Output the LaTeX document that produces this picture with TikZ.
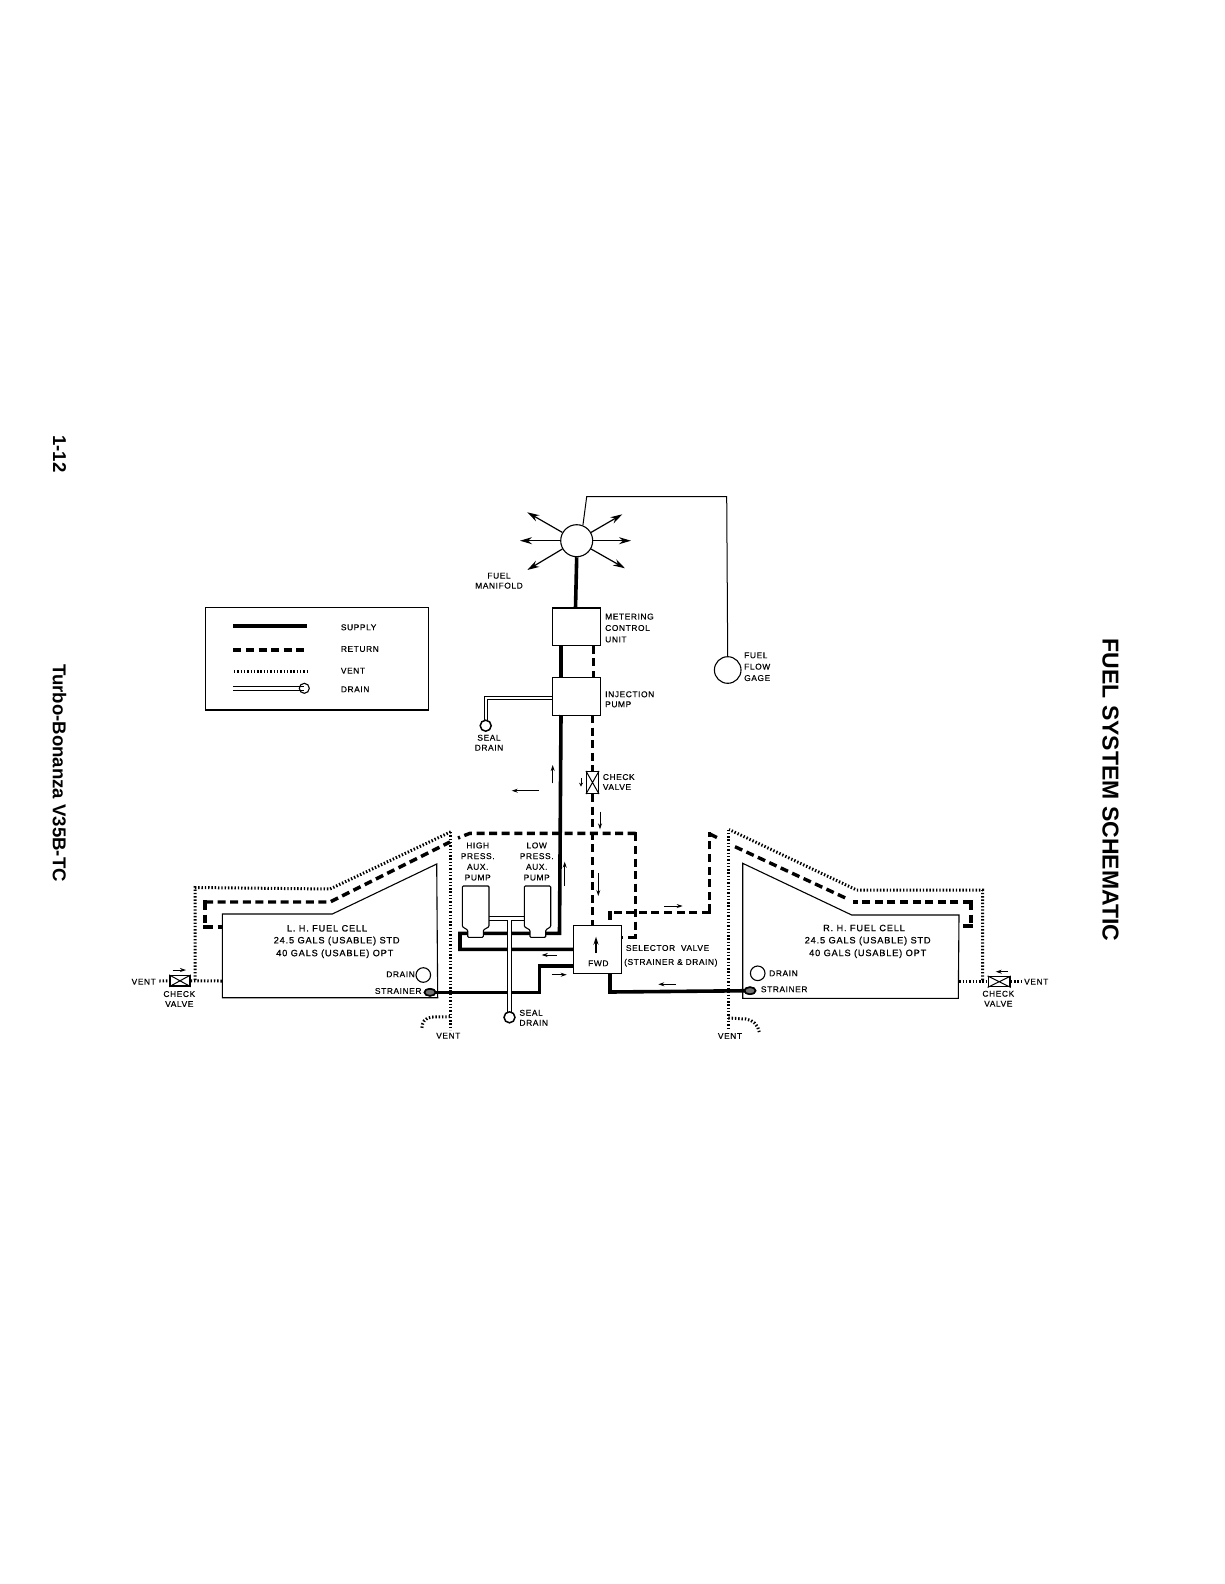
\documentclass[tikz,border=0pt]{standalone}
\usepackage{fontspec}
\setmainfont{Liberation Sans}
\newfontfamily\lbl[LetterSpace=7,FakeBold=0.3]{Liberation Sans}
\newfontfamily\lblb[LetterSpace=9,FakeBold=0.8]{Liberation Sans}
\usetikzlibrary{arrows.meta,shapes.geometric}
\tikzset{
  supply/.style={line width=3.6pt,line join=miter},
  ret/.style={line width=3.4pt,dash pattern=on 8pt off 4.6pt,line join=miter},
  ventline/.style={line width=3pt,dash pattern=on 1.4pt off 1.9pt},
  drainedge/.style={line width=0.9pt,line join=miter},
  draincore/.style={white,line width=2.2pt},
  thinline/.style={line width=1pt},
  tank/.style={line width=1.1pt,line join=miter},
  box/.style={draw,line width=1.1pt,fill=white,inner sep=0pt,rectangle},
  flow/.style={line width=0.9pt,-{Stealth[length=6pt,width=4pt]}},
  spray/.style={line width=1.2pt,-{Stealth[length=12pt,width=7pt]}},
  circ/.style={draw,circle,line width=1.1pt,fill=white,inner sep=0pt},
  strainer/.style={draw,ellipse,line width=1.6pt,fill=black!55,inner sep=0pt,minimum width=11pt,minimum height=7pt},
  valve/.style={draw,line width=1.5pt,fill=white,inner sep=0pt,rectangle},
  lab/.style={font=\lbl\fontsize{8.4}{10}\selectfont,inner sep=0pt,align=center},
  labl/.style={lab,anchor=west},
  labr/.style={lab,anchor=east},
  labwide/.style={font=\lbl\fontsize{8.4}{11.4}\selectfont},
  labpump/.style={font=\lbl\fontsize{8.4}{10.7}\selectfont},
  tanklab/.style={font=\lblb\fontsize{9.2}{10}\selectfont,inner sep=0pt},
  pagehead/.style={font=\bfseries\fontsize{18.6}{22}\selectfont,inner sep=0pt,rotate=-90},
}
\begin{document}
\begin{tikzpicture}[x=1pt,y=-1pt]
\useasboundingbox (0,0) rectangle (1224,1584);
% page headings
\node[pagehead] (page) at (59.5,454) {1-12};
\node[pagehead] (model) at (59.5,773) {Turbo-Bonanza V35B-TC};
\node[pagehead,font=\bfseries\fontsize{23}{26}\selectfont] (title) at (1110.5,790) {FUEL SYSTEM SCHEMATIC};

% legend
\node[box,line width=1.3pt,minimum width=223pt,minimum height=102.7pt] (legend) at (317.2,658.7) {};
\coordinate (ls1) at (233.3,626); \coordinate (ls2) at (306.7,626);
\coordinate (lr1) at (233.3,650); \coordinate (lr2) at (306.7,650);
\coordinate (lv1) at (234,671.7); \coordinate (lv2) at (306.7,671.7);
\draw[supply] (ls1) -- (ls2);
\draw[ret] (lr1) -- (lr2);
\draw[ventline] (lv1) -- (lv2);
\draw[drainedge] (233.3,686.6) -- (304.3,686.6) (233.3,690) -- (304.3,690);
\node[circ,minimum size=10pt,fill=none] (ldc) at (304.3,688.3) {};
\node[labl] (lt1) at (340.7,627.3) {SUPPLY};
\node[labl] (lt2) at (340.7,649) {RETURN};
\node[labl] (lt3) at (340.7,670.7) {VENT};
\node[labl] (lt4) at (340.7,689.3) {DRAIN};

% upper components
\node[circ,minimum size=32pt] (manifold) at (576.7,540.7) {};
\node[box,minimum width=47.7pt,minimum height=37.7pt] (metering) at (576.2,626.8) {};
\node[box,minimum width=47.7pt,minimum height=37.7pt] (injection) at (576.2,696.2) {};
\node[circ,minimum size=26.6pt] (gage) at (727.7,670) {};
\node[box,minimum width=48.4pt,minimum height=48.3pt] (selector) at (597.5,949.2) {};

% supply lines
\coordinate (s1) at (575.5,608);
\draw[supply] (manifold.south) -- (s1);
\coordinate (s2) at (561,645.7); \coordinate (s3) at (561,677.3);
\draw[supply] (s2) -- (s3);
\coordinate (s4) at (561,715); \coordinate (s5) at (559.5,933.3);
\coordinate (s6) at (460,933.3); \coordinate (s7) at (460,949.4);
\coordinate (s8) at (573.3,949.4);
\draw[supply] (s4) -- (s5) -- (s6) -- (s7) -- (s8);
\node[strainer] (lstrain) at (430,992.3) {};
\node[strainer] (rstrain) at (750,990.7) {};
\coordinate (s9) at (573.3,966); \coordinate (s10) at (539.3,966); \coordinate (s11) at (539.3,992.3);
\draw[supply] (s9) -- (s10) -- (s11) -- (lstrain.center);
\coordinate (s12) at (610,973.3); \coordinate (s13) at (610,992);
\draw[supply] (s12) -- (s13) -- (rstrain.center);
\node[strainer] at (lstrain) {};
\node[strainer] at (rstrain) {};

% pumps
\draw[tank,fill=white,rounded corners=1pt] (462.3,886) -- (489,886) -- (489,926.7) -- (483.3,930) -- (483.3,937.3) -- (467.7,937.3) -- (467.7,930) -- (462.3,926.7) -- cycle;
\draw[tank,fill=white,rounded corners=1pt] (524.3,886) -- (550.7,886) -- (550.7,926.7) -- (545.7,930) -- (545.7,937.3) -- (530,937.3) -- (530,930) -- (524.3,926.7) -- cycle;
% drains from pumps
\coordinate (d1) at (489,916.6); \coordinate (d2) at (524.3,916.6);
\coordinate (d3) at (489,920); \coordinate (d4) at (507.8,920);
\coordinate (d5) at (511.2,920); \coordinate (d6) at (524.3,920);
\coordinate (d7) at (507.8,1013); \coordinate (d8) at (511.2,1013);
\draw[draincore] (509.5,921) -- (509.5,1013);
\draw[drainedge] (d1) -- (d2);
\draw[drainedge] (d3) -- (d4) -- (d7);
\draw[drainedge] (d6) -- (d5) -- (d8);
\node[circ,minimum size=11pt,line width=1.5pt,fill=none] (sealb) at (509.5,1017.3) {};
% injection pump drain
\coordinate (e1) at (552.3,696); \coordinate (e2) at (484,696); \coordinate (e3) at (484,721);
\coordinate (e4) at (552.3,699.4); \coordinate (e5) at (487.4,699.4); \coordinate (e6) at (487.4,721);
\draw[drainedge] (e1) -- (e2) -- (e3);
\draw[drainedge] (e4) -- (e5) -- (e6);
\node[circ,minimum size=11pt,line width=1.5pt,fill=none] (sealt) at (485.7,725.7) {};

% return lines
\coordinate (r1) at (593.3,645.7); \coordinate (r2) at (593.3,677.3);
\draw[ret] (r1) -- (r2);
\node[valve,minimum width=11.6pt,minimum height=21.6pt] (cvtop) at (592.5,782.5) {};
\draw[line width=1pt] (cvtop.north west) -- (cvtop.south east) (cvtop.north east) -- (cvtop.south west);
\coordinate (r3) at (592.5,715); \coordinate (r4) at (592.5,925);
\draw[ret] (r3) -- (cvtop.north);
\draw[ret] (cvtop.south) -- (r4);
\coordinate (rl1) at (222.3,927); \coordinate (rl2) at (205,927); \coordinate (rl3) at (205,902);
\coordinate (rl4) at (330,902); \coordinate (rl5) at (450,842);
\draw[ret] (rl2) -- (rl1);
\draw[ret] (rl3) -- (rl2);
\draw[ret] (rl3) -- (rl4) -- (rl5);
\coordinate (rc1) at (458,838); \coordinate (rc2) at (470,833.3); \coordinate (rc3) at (635.7,833.3);
\coordinate (rc4) at (635.7,937.3); \coordinate (rc5) at (621.7,937.3);
\draw[ret] (rc3) -- (rc2) -- (rc1);
\draw[ret] (rc3) -- (rc4);
\draw[ret] (rc4) -- (rc5);
\coordinate (rr1) at (610,925); \coordinate (rr2) at (610,912.3); \coordinate (rr3) at (709.7,912.3);
\coordinate (rr4) at (709.7,834); \coordinate (rr5) at (720,839);
\draw[ret] (rr2) -- (rr1);
\draw[ret] (rr3) -- (rr2);
\draw[ret] (rr3) -- (rr4);
\draw[ret] (rr4) -- (rr5);
\coordinate (rr6) at (735,846.7); \coordinate (rr7) at (848.3,899.3);
\draw[ret] (rr6) -- (rr7);
\coordinate (rr8) at (853.3,902); \coordinate (rr9) at (971,902); \coordinate (rr10) at (971,926); \coordinate (rr11) at (959,926);
\draw[ret] (rr9) -- (rr8);
\draw[ret] (rr9) -- (rr10);
\draw[ret] (rr10) -- (rr11);
\foreach \c in {rl2,rl3,rc3,rc4,rr2,rr3,rr4,rr9,rr10} \fill (\c) +(-1.7,-1.7) rectangle +(1.7,1.7);

% fuel cells
\draw[tank] (222.3,914) -- (332.3,914) -- (436.7,864) -- (437.7,997.7) -- (222.3,997.7) -- cycle;
\draw[tank] (742.7,863.3) -- (851.7,915) -- (959,915) -- (958.3,998.3) -- (742.7,998.3) -- cycle;

% vent lines
\node[valve,minimum width=20pt,minimum height=10.3pt] (cvl) at (180,980.8) {};
\draw[line width=1pt] (cvl.north west) -- (cvl.south east) (cvl.north east) -- (cvl.south west);
\node[valve,minimum width=21.7pt,minimum height=10pt] (cvr) at (999.2,981.7) {};
\draw[line width=1pt] (cvr.north west) -- (cvr.south east) (cvr.north east) -- (cvr.south west);
\coordinate (vl0) at (159.3,981); \coordinate (vl1) at (222.3,981);
\draw[ventline] (vl0) -- (cvl.west);
\draw[ventline] (cvl.east) -- (vl1);
\coordinate (vl2) at (195,980); \coordinate (vl3) at (195,887.5); \coordinate (vl4) at (330,889); \coordinate (vl5) at (451,831.7);
\draw[ventline] (vl2) -- (vl3) -- (vl4) -- (vl5);
\coordinate (vl6) at (450.7,832); \coordinate (vl7) at (450.7,1030);
\draw[ventline] (vl6) -- (vl7);
\coordinate (vl8) at (450,1016.7); \coordinate (vl9) at (421.7,1029);
\draw[ventline] (vl8) -- (432,1017) .. controls (425,1017.5) and (422,1022) .. (vl9);
\coordinate (vr0) at (959.3,981.7); \coordinate (vr1) at (1021.7,981.7);
\draw[ventline] (vr0) -- (cvr.west);
\draw[ventline] (cvr.east) -- (vr1);
\coordinate (vr2) at (982.7,980); \coordinate (vr3) at (982.7,890); \coordinate (vr4) at (856.7,890); \coordinate (vr5) at (729,829.5);
\draw[ventline] (vr2) -- (vr3) -- (vr4) -- (vr5);
\coordinate (vr6) at (728.3,829.5); \coordinate (vr7) at (728.3,1030);
\draw[ventline] (vr6) -- (vr7);
\coordinate (vr8) at (728.3,1018); \coordinate (vr9) at (759.3,1032);
\draw[ventline] (vr8) -- (746,1019) .. controls (753,1020) and (758,1025) .. (vr9);

% manifold spray arrows
\draw[spray] (manifold.150) -- (527.3,512.3);
\draw[spray] (manifold.30) -- (622.3,514.3);
\draw[spray] (manifold.180) -- (520,540.7);
\draw[spray] (manifold.0) -- (631,540.7);
\draw[spray] (manifold.210) -- (527.3,570);
\draw[spray] (manifold.330) -- (625,568.3);
% gage line
\coordinate (g1) at (726.7,496.7); \coordinate (g2) at (586.7,496.7);
\draw[thinline] (gage.north) -- (g1) -- (g2) -- (manifold.68);

% drain circles
\node[circ,minimum size=14.6pt,fill=none] (ldrain) at (423.3,975) {};
\node[circ,minimum size=14.6pt,fill=none] (rdrain) at (757.7,973.3) {};

% flow arrows
\draw[flow] (552.7,783.3) -- (552.7,765);
\draw[flow] (539,790.7) -- (511.7,790.7);
\draw[flow,-{Stealth[length=4pt,width=4pt]}] (581,778.3) -- (581,786.7);
\draw[flow] (600,811.7) -- (600,829.3);
\draw[flow] (598.3,873.3) -- (598.3,896);
\draw[flow] (564.7,885.7) -- (564.7,861.7);
\draw[flow] (556.7,955) -- (541.7,955);
\draw[flow] (551.7,974.7) -- (566.7,974.7);
\draw[flow] (676,984.3) -- (658.3,984.3);
\draw[flow] (664.3,906) -- (682.7,906);
\draw[flow,line width=1.2pt,-{Stealth[length=8pt,width=5pt]}] (596,953.3) -- (596,936.7);
\draw[flow] (172.7,970) -- (186,970);
\draw[flow] (1008,971.7) -- (995.7,971.7);

% labels
\node[lab] (fm) at (499,580.7) {FUEL\\MANIFOLD};
\node[labl,labwide,align=left] (mc) at (605,628) {METERING\\CONTROL\\UNIT};
\node[labl,align=left] (ip) at (605,699.3) {INJECTION\\PUMP};
\node[lab] (sd1) at (489,742.7) {SEAL\\DRAIN};
\node[labl,align=left] (cv0) at (602.7,782) {CHECK\\VALVE};
\node[labl,labwide,align=left] (ff) at (744,666.7) {FUEL\\FLOW\\GAGE};
\node[lab,labpump] (hp) at (477.7,861.5) {HIGH\\PRESS.\\AUX.\\PUMP};
\node[lab,labpump] (lp) at (536.7,861.5) {LOW\\PRESS.\\AUX.\\PUMP};
\node[labl,align=left] (sd2) at (519.3,1017.8) {SEAL\\DRAIN};
\node[lab] (fwd) at (598.3,963.3) {FWD};
\node[labl] (sv1) at (625.7,948) {SELECTOR\ \ VALVE};
\node[labl] (sv2) at (624,962.7) {(STRAINER \& DRAIN)};
\node[lab] (vl) at (448.3,1035.7) {VENT};
\node[lab] (vr) at (730,1036) {VENT};
\node[labr] (vll) at (156,981.7) {VENT};
\node[labl] (vrr) at (1024,981.7) {VENT};
\node[lab] (cl) at (179.3,999) {CHECK\\VALVE};
\node[lab] (cr) at (998.3,998.7) {CHECK\\VALVE};
\node[labr] (dl) at (415,974.3) {DRAIN};
\node[labr] (stl) at (421.7,991) {STRAINER};
\node[labl] (dr) at (769,973.3) {DRAIN};
\node[labl] (str) at (760.7,989.3) {STRAINER};
\node[tanklab] (l1) at (327,928.3) {L. H. FUEL CELL};
\node[tanklab] (l2) at (336.7,941) {24.5 GALS (USABLE) STD};
\node[tanklab] (l3) at (334.8,953.8) {40 GALS (USABLE) OPT};
\node[tanklab] (r1t) at (864,928) {R. H. FUEL CELL};
\node[tanklab] (r2t) at (867.7,941) {24.5 GALS (USABLE) STD};
\node[tanklab] (r3t) at (867.7,953.7) {40 GALS (USABLE) OPT};
\end{tikzpicture}
\end{document}
